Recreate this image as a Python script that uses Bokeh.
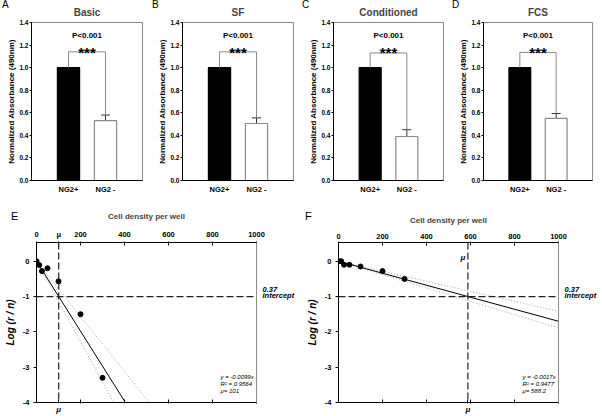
from bokeh.plotting import figure
from bokeh.models import (Range1d, FixedTicker, Label, Whisker, ColumnDataSource,
                          TeeHead, Span, LinearAxis, NumeralTickFormatter, Div)
from bokeh.layouts import row, column
from bokeh.core.properties import value
from bokeh.embed import file_html
from bokeh.resources import INLINE

FONT = "Liberation Sans"
GRAY = "#8a8a8a"

# ---------------- data: panels A-D ----------------
conditions = ["Basic", "SF", "Conditioned", "FCS"]
letters_top = ["A", "B", "C", "D"]
groups = ["NG2+", "NG2 -"]
bar_x = [1, 2]
ng2_pos_mean = [1.0, 1.0, 1.0, 1.0]
ng2_neg_mean = [0.53, 0.505, 0.39, 0.55]
ng2_neg_sem = [0.05, 0.05, 0.06, 0.043]
bracket_height = [1.14, 1.14, 1.13, 1.135]
p_labels = ["P<0.001", "P<0.001", "P<0.001", "P<0.001"]
sig_labels = ["***", "***", "***", "***"]
bar_ticks = [0.0, 0.2, 0.4, 0.6, 0.8, 1.0, 1.2, 1.4]

# ---------------- data: panels E-F ----------------
cell_density = [0, 12.5, 25, 50, 100, 200, 300]
log_rn_E = [0, -0.11, -0.28, -0.2, -0.57, -1.5, -3.3]
log_rn_F = [0, 0, -0.1, -0.1, -0.15, -0.28, -0.5]
slope_E = -0.0099
slope_E_band = [-0.0114, -0.0078]
r2_E = 0.9564
mu_E = 101
slope_F = -0.0017
slope_F_band = [-0.00189, -0.00142]
r2_F = 0.9477
mu_F = 588.2
density_ticks = [0, 200, 400, 600, 800, 1000]
log_ticks = [0, -1, -2, -3, -4]
intercept_level = -1
intercept_text = ["0.37", "intercept"]


def style_axis(ax, size):
    ax.axis_line_color = "black"
    ax.axis_line_width = 1
    ax.major_tick_line_color = "black"
    ax.minor_tick_line_color = None
    ax.major_label_text_font = FONT
    ax.major_label_text_font_style = "bold"
    ax.major_label_text_font_size = size
    ax.major_label_text_color = "black"
    ax.axis_label_text_font = FONT
    ax.axis_label_text_color = "black"


def letter_div(txt, fig_width, x, y, size):
    w = 14
    return Div(text=txt, width=w, height=14,
               margin=(y, fig_width - x - w, 0, -(fig_width - x)),
               styles={"font-family": FONT, "font-size": size, "line-height": size,
                       "color": "black"})


def bar_panel(i, width, left, right):
    p = figure(width=width, height=200, x_range=Range1d(0, 3), y_range=Range1d(0, 1.4),
               title=conditions[i], output_backend="svg", toolbar_location=None,
               min_border_left=left, min_border_right=right,
               min_border_top=22, min_border_bottom=20)
    p.title.align = "center"
    p.title.text_font = FONT
    p.title.text_font_size = "10px"
    p.title.text_font_style = "bold"
    p.title.standoff = 9
    p.xgrid.visible = False
    p.ygrid.visible = False
    p.outline_line_color = GRAY
    p.background_fill_color = "white"
    p.border_fill_color = "white"

    m = ng2_neg_mean[i]
    s = ng2_neg_sem[i]
    src = ColumnDataSource(dict(x=bar_x, top=[ng2_pos_mean[i], m],
                                fill=["black", "white"], line=["black", GRAY]))
    p.vbar(x="x", top="top", bottom=0, width=0.6, fill_color="fill",
           line_color="line", line_width=1.2, source=src)
    err = ColumnDataSource(dict(x=[bar_x[1]], lo=[m - s], hi=[m + s]))
    p.add_layout(Whisker(base="x", lower="lo", upper="hi", source=err,
                         line_color="#333333", line_width=1,
                         upper_head=TeeHead(size=9, line_color="#333333", line_width=1),
                         lower_head=TeeHead(size=9, line_color="#333333", line_width=1)))
    h = bracket_height[i]
    p.line(x=[bar_x[0], bar_x[0], bar_x[1], bar_x[1]],
           y=[ng2_pos_mean[i], h, h, m + s], line_color=GRAY, line_width=1)
    mid = (bar_x[0] + bar_x[1]) / 2
    p.text(x=[mid], y=[1.285], text=[p_labels[i]], text_font=value(FONT),
           text_font_style="bold", text_font_size="8px", text_align="center",
           text_baseline="alphabetic", text_color="black")
    p.text(x=[mid], y=[1.133], text=[sig_labels[i]], text_font=value(FONT),
           text_font_style="bold", text_font_size="15px", text_align="center",
           text_baseline="alphabetic", text_color="black")

    xa = p.xaxis[0]
    style_axis(xa, "7.5px")
    xa.ticker = FixedTicker(ticks=bar_x)
    xa.major_label_overrides = {bar_x[0]: groups[0], bar_x[1]: groups[1]}
    xa.major_tick_line_color = None
    xa.major_tick_in = 0
    xa.major_tick_out = 0
    xa.major_label_standoff = 4

    ya = p.yaxis[0]
    style_axis(ya, "6.5px")
    ya.ticker = FixedTicker(ticks=bar_ticks)
    ya.formatter = NumeralTickFormatter(format="0.0")
    ya.major_tick_in = 0
    ya.major_tick_out = 2
    ya.major_label_standoff = 1
    ya.axis_label = "Normalized Absorbance (490nm)"
    ya.axis_label_text_font_style = "bold"
    ya.axis_label_text_font_size = "8px"
    ya.axis_label_standoff = 0
    return p


def density_panel(width, left, ys, slope, band, r2, mu, mu_top_inside):
    right = width - left - 220
    p = figure(width=width, height=216, x_range=Range1d(0, 1000), y_range=Range1d(-4, 0.53),
               title="Cell density per well", x_axis_location="above",
               output_backend="svg", toolbar_location=None,
               min_border_left=left, min_border_right=right,
               min_border_top=42, min_border_bottom=14)
    p.title.align = "center"
    p.title.text_font = FONT
    p.title.text_font_size = "8px"
    p.title.text_font_style = "bold"
    p.title.standoff = 12
    p.xgrid.visible = False
    p.ygrid.visible = False
    p.outline_line_color = GRAY
    p.background_fill_color = "white"
    p.border_fill_color = "white"

    # reference lines
    p.add_layout(Span(location=intercept_level, dimension="width", line_color="#222222",
                      line_width=1.2, line_dash="7 3"))
    p.add_layout(Span(location=mu, dimension="height", line_color="#222222",
                      line_width=1.2, line_dash="7 3"))

    # fit and bands
    xe = [density_ticks[0], density_ticks[-1]]
    for b in band:
        p.line(x=xe, y=[b * v for v in xe], line_color="#999999", line_width=0.9,
               line_dash="1 2")
    p.line(x=xe, y=[slope * v for v in xe], line_color="black", line_width=1)
    p.scatter(x=cell_density, y=ys, size=5, color="black")

    # top axis
    xa = p.xaxis[0]
    style_axis(xa, "7.5px")
    top_ticks = list(density_ticks) if mu_top_inside else sorted(density_ticks + [mu])
    xa.ticker = FixedTicker(ticks=top_ticks)
    if not mu_top_inside:
        xa.major_label_overrides = {mu: "\u03bc"}
    xa.major_tick_in = 3
    xa.major_tick_out = 1
    xa.major_label_standoff = 3

    # bottom axis (only the mu label)
    bt = sorted(density_ticks[1:] + [mu])
    bx = LinearAxis(ticker=FixedTicker(ticks=bt))
    style_axis(bx, "8px")
    bx.major_label_text_font_style = "bold italic"
    bx.major_label_overrides = {t: ("\u03bc" if t == mu else "") for t in bt}
    bx.major_tick_in = 3
    bx.major_tick_out = 1
    bx.major_label_standoff = 1
    p.add_layout(bx, "below")

    # right axis: frame edge + "0.37 intercept"
    label_pos = [intercept_level + 0.2, intercept_level + 0.02]
    ra = LinearAxis(ticker=FixedTicker(ticks=label_pos))
    style_axis(ra, "7.5px")
    ra.axis_line_color = GRAY
    ra.major_tick_line_color = None
    ra.major_tick_in = 0
    ra.major_tick_out = 0
    ra.major_label_standoff = 6
    ra.major_label_text_font_style = "bold italic"
    ra.major_label_overrides = {label_pos[0]: intercept_text[0],
                                label_pos[1]: intercept_text[1]}
    p.add_layout(ra, "right")

    ya = p.yaxis[0]
    style_axis(ya, "7.5px")
    ya.ticker = FixedTicker(ticks=log_ticks)
    ya.major_label_overrides = {t: str(t) for t in log_ticks}
    ya.major_tick_in = 0
    ya.major_tick_out = 3
    ya.major_label_standoff = 4
    ya.axis_label = "Log (r / n)"
    ya.axis_label_text_font_style = "bold italic"
    ya.axis_label_text_font_size = "10px"
    ya.axis_label_standoff = 4

    fh = 216 - 42 - 14
    if mu_top_inside:
        p.add_layout(Label(x=mu, y=fh - 15, x_units="data", y_units="screen", x_offset=-5,
                           text="\u03bc", text_font=FONT, text_font_size="8px",
                           text_font_style="bold italic", text_align="center",
                           text_baseline="alphabetic", text_color="black"))
    eq = [f"y = {slope}x", f"R\u00b2 = {r2}", f"\u03bc= {mu}"]
    for k, txt in enumerate(eq):
        p.add_layout(Label(x=density_ticks[-1], y=26 - 7 * k, x_units="data", y_units="screen",
                           x_offset=-36, text=txt, text_font=FONT, text_font_size="6px",
                           text_font_style="italic", text_baseline="alphabetic",
                           text_color="black"))
    return p


pa = bar_panel(0, 150, 31, 8)
pb = bar_panel(1, 150, 32, 7)
pc = bar_panel(2, 150, 33, 7)
pd = bar_panel(3, 152, 33, 10)
pe = density_panel(300, 36, log_rn_E, slope_E, slope_E_band, r2_E, mu_E, False)
pf = density_panel(302, 38, log_rn_F, slope_F, slope_F_band, r2_F, mu_F, True)

top_row = row(pa, letter_div(letters_top[0], 150, 2, 0, "10px"),
              pb, letter_div(letters_top[1], 150, 2, 0, "10px"),
              pc, letter_div(letters_top[2], 150, 2, 0, "10px"),
              pd, letter_div(letters_top[3], 152, 2, 0, "10px"))
bottom_row = row(pe, letter_div("E", 300, 11, 11, "11px"),
                 pf, letter_div("F", 302, 5, 11, "11px"))
layout = column(top_row, bottom_row)

open("out.html", "w").write(file_html(layout, INLINE))
